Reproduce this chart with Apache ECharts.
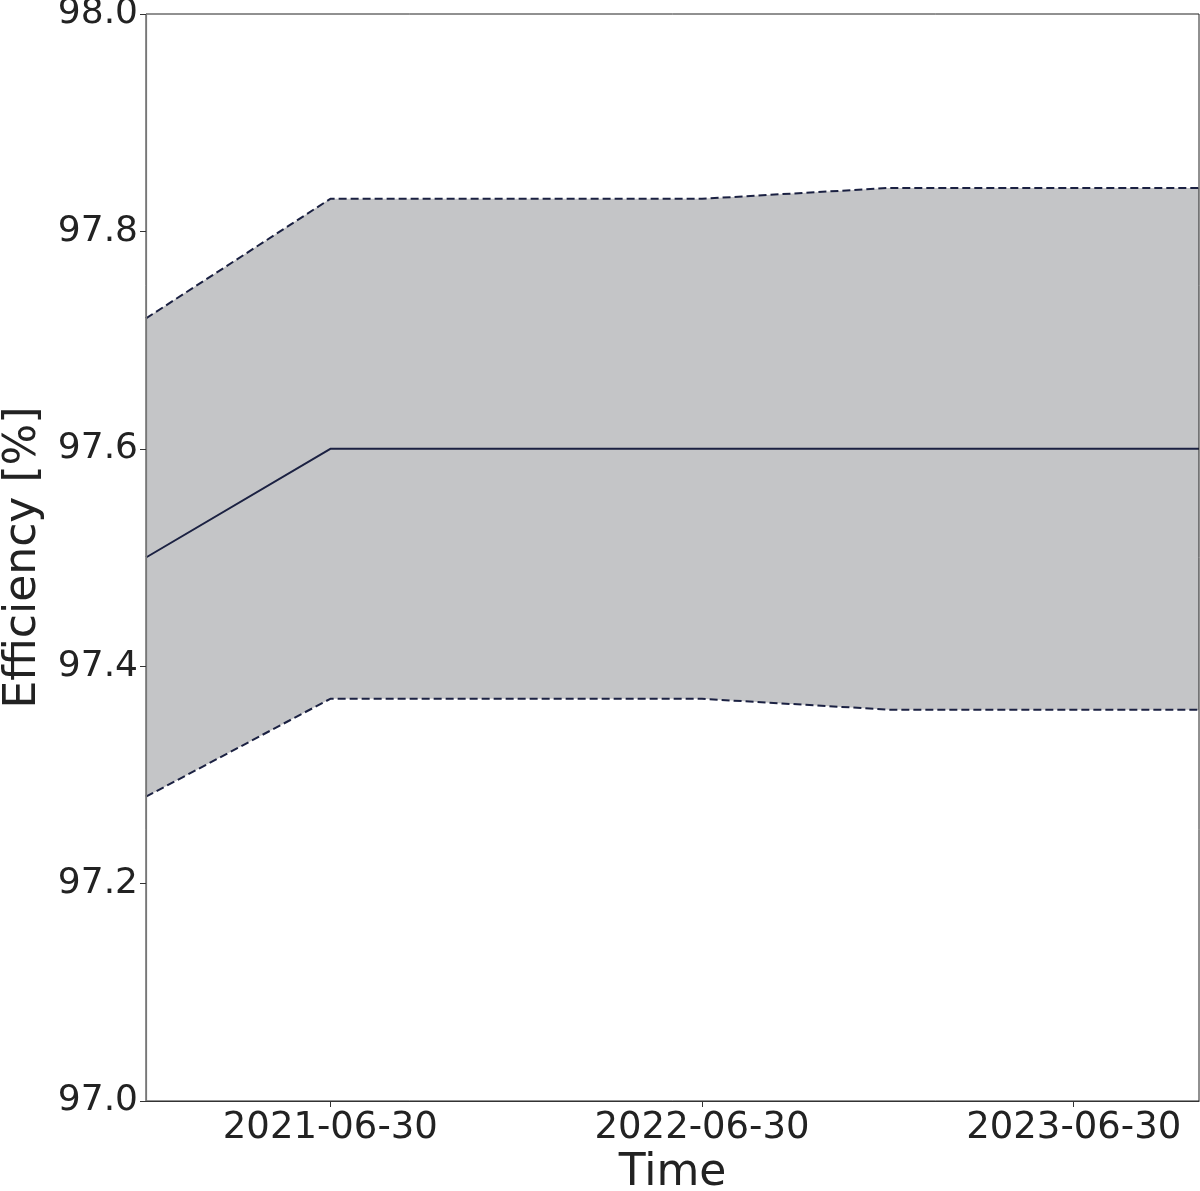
<!DOCTYPE html>
<html><head><meta charset="utf-8">
<script src="https://cdn.jsdelivr.net/npm/echarts@6/dist/echarts.min.js"></script>
<style>html,body{margin:0;padding:0;background:#fff}#c{width:1200px;height:1191px}</style>
</head><body><div id="c"></div>
<script>
const dates = ['2020-12-31','2021-06-30','2022-06-30','2022-12-31','2023-10-31'];
const meanVals = [97.5, 97.6, 97.6, 97.6, 97.6];
const upperVals = [97.72, 97.83, 97.83, 97.84, 97.84];
const lowerVals = [97.28, 97.37, 97.37, 97.36, 97.36];
const xTickLabels = ['2021-06-30','2022-06-30','2023-06-30'];
const yMin = 97.0, yMax = 98.0, yStep = 0.2;

const ts = d => new Date(d + 'T00:00:00Z').getTime();
const pad = n => (n < 10 ? '0' : '') + n;
const fmt = v => { const d = new Date(v); return d.getUTCFullYear() + '-' + pad(d.getUTCMonth()+1) + '-' + pad(d.getUTCDate()); };

const lineColor = '#1b2142';
const font = 'DejaVu Sans';
const chart = echarts.init(document.getElementById('c'));
chart.setOption({
  animation: false,
  grid: { left: 146, top: 14, width: 1053, height: 1087, show: true, borderColor: '#222', borderWidth: 1, backgroundColor: 'transparent', outerBoundsMode: 'none', containLabel: false, z: 10 },
  xAxis: {
    type: 'value', min: ts(dates[0]), max: ts(dates[dates.length-1]), scale: true, z: 10,
    name: 'Time', nameLocation: 'middle', nameGap: 51,
    nameTextStyle: { fontFamily: font, fontSize: 44, color: '#222' },
    axisLine: { show: true, lineStyle: { color: '#333', width: 1.2 } },
    axisTick: { show: true, length: 6, lineStyle: { color: '#333' }, customValues: xTickLabels.map(ts) },
    axisLabel: { customValues: xTickLabels.map(ts), formatter: v => fmt(v), fontFamily: font, fontSize: 37, color: '#222', margin: 9, hideOverlap: false },
    splitLine: { show: false }
  },
  yAxis: {
    type: 'value', min: yMin, max: yMax, interval: yStep, z: 10,
    name: 'Efficiency [%]', nameLocation: 'middle', nameGap: 100,
    nameTextStyle: { fontFamily: font, fontSize: 44, color: '#222' },
    axisLine: { show: true, lineStyle: { color: '#777', width: 1.2 } },
    axisTick: { show: true, length: 6, lineStyle: { color: '#333' } },
    axisLabel: { formatter: v => v.toFixed(1), fontFamily: font, fontSize: 36, color: '#222', margin: 8 },
    splitLine: { show: false }
  },
  series: [
    { type: 'line', data: dates.map((d,i)=>[ts(d), upperVals[i]]), symbol: 'none', lineStyle: { opacity: 0 }, areaStyle: { color: '#c4c5c7', opacity: 1, origin: 'start' }, silent: true, z: 1 },
    { type: 'line', data: dates.map((d,i)=>[ts(d), lowerVals[i]]), symbol: 'none', lineStyle: { opacity: 0 }, areaStyle: { color: '#ffffff', opacity: 1, origin: 'start' }, silent: true, z: 1 },
    { type: 'line', data: dates.map((d,i)=>[ts(d), upperVals[i]]), symbol: 'none', lineStyle: { color: lineColor, width: 2, type: [8,4] }, z: 3 },
    { type: 'line', data: dates.map((d,i)=>[ts(d), lowerVals[i]]), symbol: 'none', lineStyle: { color: lineColor, width: 2, type: [8,4] }, z: 3 },
    { type: 'line', data: dates.map((d,i)=>[ts(d), meanVals[i]]), symbol: 'none', lineStyle: { color: lineColor, width: 2 }, z: 3 }
  ]
});
</script></body></html>
